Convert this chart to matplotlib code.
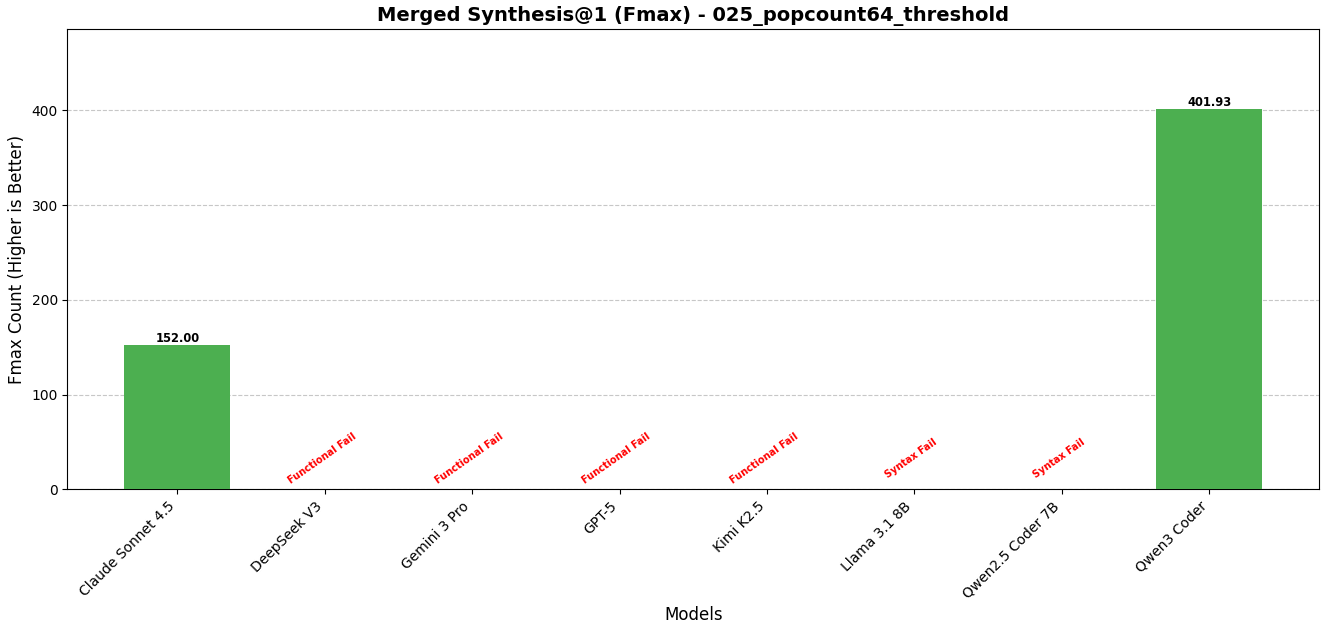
import numpy as np
import matplotlib.pyplot as plt

models = ["Claude Sonnet 4.5", "DeepSeek V3", "Gemini 3 Pro", "GPT-5",
          "Kimi K2.5", "Llama 3.1 8B", "Qwen2.5 Coder 7B", "Qwen3 Coder"]
fmax = [152.00, 0, 0, 0, 0, 0, 0, 401.93]
status = ["ok", "Functional Fail", "Functional Fail", "Functional Fail",
          "Functional Fail", "Syntax Fail", "Syntax Fail", "ok"]

fig, ax = plt.subplots(figsize=(13.23, 6.25), dpi=100)
fig.subplots_adjust(left=0.051, right=0.997, top=0.953, bottom=0.217)

x = np.arange(len(models))
bars = ax.bar(x, fmax, width=0.72, color="#4CAF50", zorder=3)
ymax = max(fmax)
ax.set_ylim(0, ymax * 1.208)

for i, (b, v, s) in enumerate(zip(bars, fmax, status)):
    if s == "ok":
        ax.text(b.get_x() + b.get_width() / 2, v, f"{v:.2f}", ha="center",
                va="bottom", fontsize=8.3, fontweight="bold")
    else:
        ax.text(x[i] - 0.02, ymax * 0.08, s, ha="center", va="center", rotation=35,
                color="red", fontsize=7, fontweight="bold")

ax.set_xticks(x)
ax.set_xticklabels(models, rotation=45, ha="right", fontsize=10)
ax.tick_params(axis="y", labelsize=10)
ax.set_xlabel("Models", fontsize=12)
ax.set_ylabel("Fmax Count (Higher is Better)", fontsize=12)
ax.set_title("Merged Synthesis@1 (Fmax) - 025_popcount64_threshold",
             fontsize=14, fontweight="bold")
ax.yaxis.grid(True, linestyle="--", alpha=0.7, zorder=0)
ax.set_axisbelow(True)

plt.savefig("out.png", dpi=100)
